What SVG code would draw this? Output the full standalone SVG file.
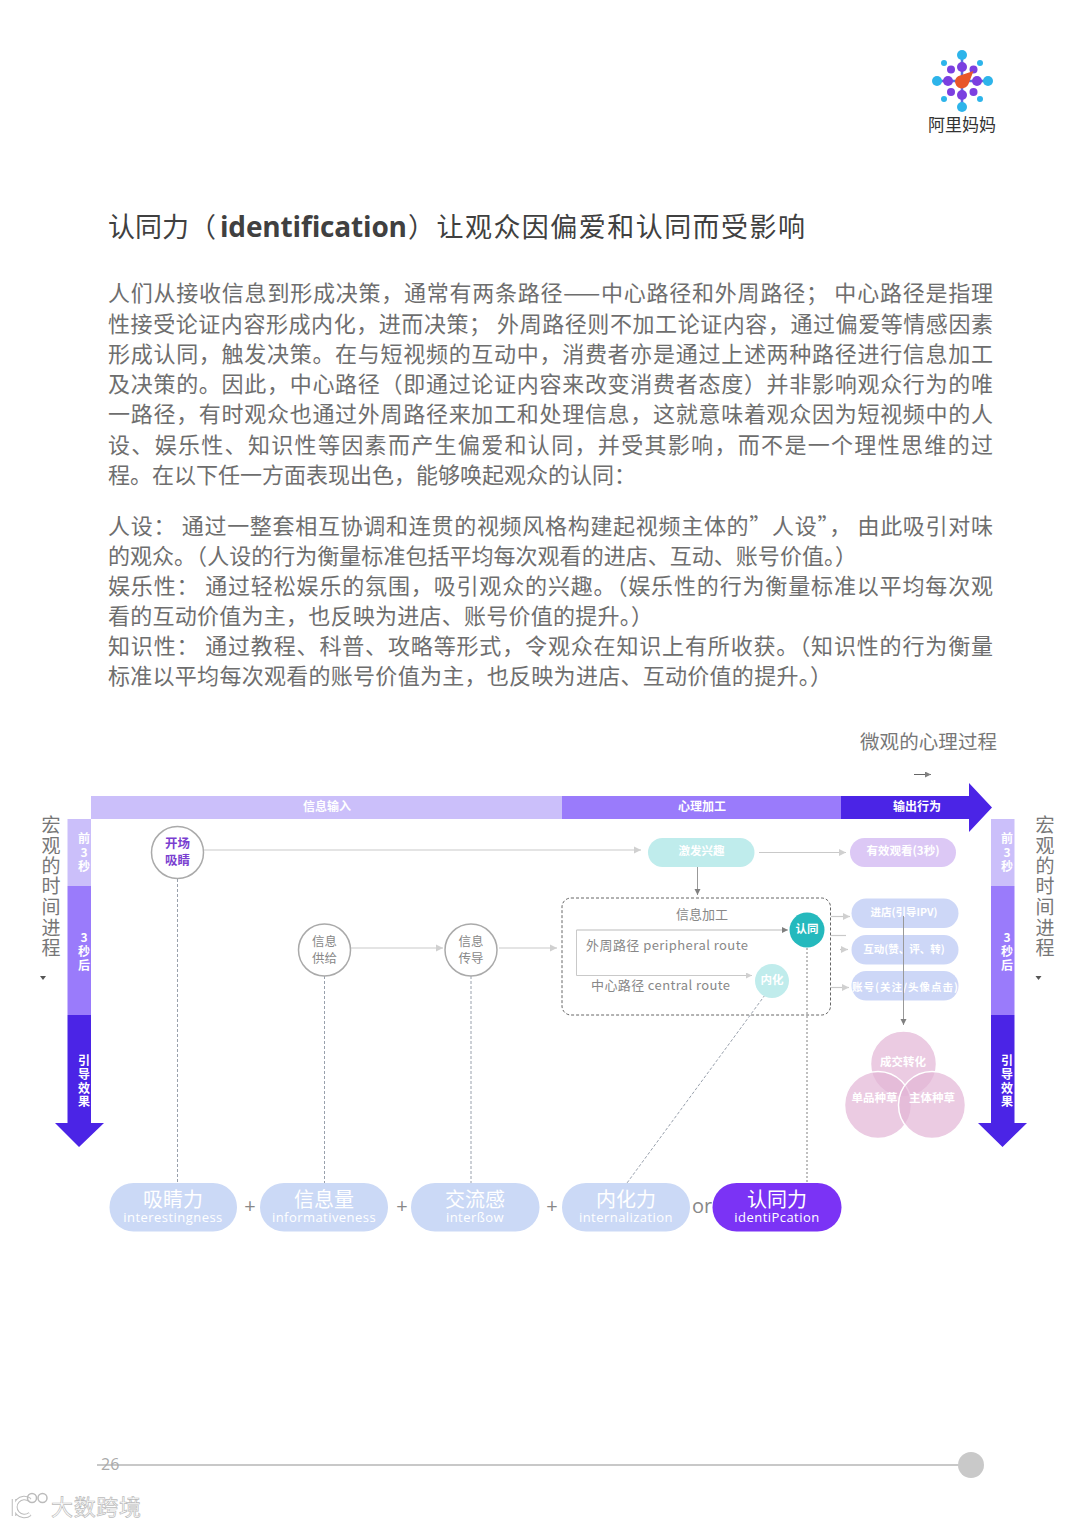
<svg xmlns="http://www.w3.org/2000/svg" width="1080" height="1526" viewBox="0 0 1080 1526">
<style>
text{font-family:"Noto Sans CJK SC","Noto Sans",sans-serif}
.b{font-size:22px;fill:#6e6e6e;font-weight:400}
.m{font-size:19px;fill:#777;text-anchor:middle}
.w{fill:#fff;text-anchor:middle;dominant-baseline:central}
.bar{font-size:12px;font-weight:700}
.col{font-size:12px;font-weight:700}
.ct{font-size:12.5px;text-anchor:middle;dominant-baseline:central;fill:#888}
.pl{font-size:11.5px;font-weight:700}
.cn{font-size:20px}
.en{font-family:"Open Sans","Noto Sans",sans-serif;font-size:13px;letter-spacing:.45px}
.sol{fill:none;stroke:#c9c9c9;stroke-width:1.2}
.dash{fill:none;stroke:#98a0ac;stroke-width:1;stroke-dasharray:3 2}
.pill{fill:#cbd9f6}
.plus{font-size:20px;fill:#888;text-anchor:middle;dominant-baseline:central;font-family:"Open Sans",sans-serif}
.circ{fill:#fff;stroke:#aaa;stroke-width:1.5}
.dot{fill:#7b3fe0}.cy{fill:#2db4ea}
.v{fill:#e3b5d6;fill-opacity:.7;stroke:#fff;stroke-width:1.5}
</style>
<defs>
<marker id="a" markerWidth="7" markerHeight="7" refX="6" refY="3" orient="auto"><path d="M0 0L6 3L0 6z" fill="#d0d0d0"/></marker>
<marker id="d" markerWidth="7" markerHeight="7" refX="6" refY="3" orient="auto"><path d="M0 0L6 3L0 6z" fill="#808080"/></marker>
</defs>
<rect width="1080" height="1526" fill="#fff"/>

<g id="logo">
<g stroke="#5a6fe0" stroke-width="2.500"><path d="M962 55V107M937 81H988"/></g>
<circle class="cy" cx="962" cy="55" r="5"/><circle class="cy" cx="962" cy="107" r="5"/><circle class="cy" cx="937" cy="81" r="5"/><circle class="cy" cx="988" cy="81" r="5"/>
<circle class="cy" cx="944" cy="63" r="3"/><circle class="cy" cx="980" cy="63" r="3"/><circle class="cy" cx="944" cy="99" r="3"/><circle class="cy" cx="980" cy="99" r="3"/>
<circle class="dot" cx="962" cy="67" r="5"/><circle class="dot" cx="962" cy="95" r="5"/><circle class="dot" cx="948" cy="81" r="5"/><circle class="dot" cx="977" cy="81" r="5"/>
<circle class="dot" cx="951" cy="69.500" r="4"/><circle class="dot" cx="973.500" cy="69.500" r="4"/><circle class="dot" cx="951" cy="92" r="4"/><circle class="dot" cx="973.500" cy="92" r="4"/>
<path d="M955 81a7 7 0 0 0 13.500 3L973.500 71L960 75.500a7 7 0 0 0-5 5.500z" fill="#e8562a"/>
<text x="928" y="131" font-size="17" textLength="68" fill="#333">阿里妈妈</text>
</g>

<g id="title">
<text x="108" y="237" font-size="27" fill="#404040">认同力（</text>
<text x="220" y="237" font-size="28" font-weight="700" fill="#404040" textLength="187" style="font-family:'Open Sans','Noto Sans',sans-serif">identification</text>
<text x="408" y="237" font-size="27" fill="#404040" textLength="397">）让观众因偏爱和认同而受影响</text>
</g>

<g id="body">
<text class="b" x="108" y="301" textLength="885">人们从接收信息到形成决策，通常有两条路径——中心路径和外周路径； 中心路径是指理</text>
<text class="b" x="108" y="332" textLength="885">性接受论证内容形成内化，进而决策； 外周路径则不加工论证内容，通过偏爱等情感因素</text>
<text class="b" x="108" y="362" textLength="885">形成认同，触发决策。在与短视频的互动中，消费者亦是通过上述两种路径进行信息加工</text>
<text class="b" x="108" y="392" textLength="885">及决策的。因此，中心路径（即通过论证内容来改变消费者态度）并非影响观众行为的唯</text>
<text class="b" x="108" y="422" textLength="885">一路径，有时观众也通过外周路径来加工和处理信息，这就意味着观众因为短视频中的人</text>
<text class="b" x="108" y="453" textLength="885">设、娱乐性、知识性等因素而产生偏爱和认同，并受其影响，而不是一个理性思维的过</text>
<text class="b" x="108" y="483" textLength="528">程。在以下任一方面表现出色，能够唤起观众的认同：</text>
<text class="b" x="108" y="534" textLength="885">人设： 通过一整套相互协调和连贯的视频风格构建起视频主体的”人设”， 由此吸引对味</text>
<text class="b" x="108" y="564" textLength="749">的观众。（人设的行为衡量标准包括平均每次观看的进店、互动、账号价值。）</text>
<text class="b" x="108" y="594" textLength="885">娱乐性： 通过轻松娱乐的氛围，吸引观众的兴趣。（娱乐性的行为衡量标准以平均每次观</text>
<text class="b" x="108" y="624" textLength="545">看的互动价值为主，也反映为进店、账号价值的提升。）</text>
<text class="b" x="108" y="654" textLength="885">知识性： 通过教程、科普、攻略等形式，令观众在知识上有所收获。（知识性的行为衡量</text>
<text class="b" x="108" y="684" textLength="724">标准以平均每次观看的账号价值为主，也反映为进店、互动价值的提升。）</text>
</g>

<g id="labels">
<text x="860" y="749" font-size="19.500" fill="#777" textLength="137">微观的心理过程</text>
<path d="M914 774.500H931" stroke="#666" stroke-width="1" marker-end="url(#d)"/>
<text class="m"><tspan x="51" y="832">宏</tspan><tspan x="51" y="853">观</tspan><tspan x="51" y="873">的</tspan><tspan x="51" y="893">时</tspan><tspan x="51" y="914">间</tspan><tspan x="51" y="934.500">进</tspan><tspan x="51" y="955">程</tspan></text>
<path d="M40 976H46L43 980z" fill="#555"/>
<text class="m"><tspan x="1045" y="832">宏</tspan><tspan x="1045" y="853">观</tspan><tspan x="1045" y="873">的</tspan><tspan x="1045" y="893">时</tspan><tspan x="1045" y="914">间</tspan><tspan x="1045" y="934.500">进</tspan><tspan x="1045" y="955">程</tspan></text>
<path d="M1035.500 976H1041.500L1038.500 980z" fill="#555"/>
</g>

<g id="top-arrow">
<rect x="91" y="796" width="471" height="23" fill="#cbbffa"/>
<rect x="562" y="796" width="279" height="23" fill="#9a7bfb"/>
<path d="M841 796H969V783L992 807.500L969 832V819H841z" fill="#4b24e6"/>
<text class="w bar" x="327" y="805">信息输入</text>
<text class="w bar" x="702" y="805">心理加工</text>
<text class="w bar" x="917" y="805">输出行为</text>
</g>

<g id="left-arrow">
<rect x="67.500" y="819" width="23.500" height="67" fill="#cbbffa"/>
<rect x="67.500" y="886" width="23.500" height="129" fill="#9a7bfb"/>
<path d="M67.500 1015H91V1123H104L79 1147L55 1123H67.500z" fill="#4b24e6"/>
<text class="w col"><tspan x="84" y="837">前</tspan><tspan x="84" y="851">3</tspan><tspan x="84" y="865">秒</tspan></text>
<text class="w col"><tspan x="84" y="936">3</tspan><tspan x="84" y="949.500">秒</tspan><tspan x="84" y="963.500">后</tspan></text>
<text class="w col"><tspan x="84" y="1059">引</tspan><tspan x="84" y="1073">导</tspan><tspan x="84" y="1086.500">效</tspan><tspan x="84" y="1100">果</tspan></text>
</g>

<g id="right-arrow">
<rect x="991" y="819" width="23.500" height="67" fill="#cbbffa"/>
<rect x="991" y="886" width="23.500" height="129" fill="#9a7bfb"/>
<path d="M991 1015H1014.500V1123H1027L1002.500 1147L978 1123H991z" fill="#4b24e6"/>
<text class="w col"><tspan x="1007" y="837">前</tspan><tspan x="1007" y="851">3</tspan><tspan x="1007" y="865">秒</tspan></text>
<text class="w col"><tspan x="1007" y="936">3</tspan><tspan x="1007" y="949.500">秒</tspan><tspan x="1007" y="963.500">后</tspan></text>
<text class="w col"><tspan x="1007" y="1059">引</tspan><tspan x="1007" y="1073">导</tspan><tspan x="1007" y="1086.500">效</tspan><tspan x="1007" y="1100">果</tspan></text>
</g>

<g id="connectors">
<path class="sol" d="M204 850H641" marker-end="url(#a)"/>
<path class="sol" d="M351 948H443" marker-end="url(#a)"/>
<path class="sol" d="M499 948H557" marker-end="url(#a)"/>
<path class="sol" d="M759 852.500H846" marker-end="url(#a)"/>
<path d="M697.500 867V895" stroke="#999" fill="none" marker-end="url(#d)"/>
<path class="sol" d="M831 916.500H850" marker-end="url(#a)"/>
<path class="sol" d="M831 935.500H846"/>
<path class="sol" d="M840 949.500H848" marker-end="url(#a)"/>
<path class="sol" d="M831 987.500H849" marker-end="url(#a)"/>
<path d="M576.500 930H788" stroke="#bbb" fill="none" marker-end="url(#d)"/>
<path d="M576.500 930V975.500H752" stroke="#c9c9c9" fill="none" marker-end="url(#a)"/>
<path class="dash" d="M177.500 879V1183"/>
<path class="dash" d="M324.500 976V1183"/>
<path class="dash" d="M471 976V1183"/>
<path class="dash" d="M765 995L627 1183"/>
<path d="M807 948V1183" fill="none" stroke="#aaa" stroke-width="1.500" stroke-dasharray="2 2"/>
</g>

<g id="process-box"><rect x="562" y="898" width="268.500" height="117" rx="9" fill="none" stroke="#666" stroke-width="1" stroke-dasharray="3 2"/>
<text class="ct" x="702" y="913" style="font-size:13px">信息加工</text>
<text x="586" y="950" font-size="13" fill="#888" textLength="162">外周路径 peripheral route</text>
<text x="591" y="990" font-size="13" fill="#888" textLength="139">中心路径 central route</text></g>

<g id="n-open"><circle class="circ" cx="177.500" cy="852.500" r="26"/><text class="ct" style="fill:#7a3fd0;font-weight:700"><tspan x="177.500" y="841.500">开场</tspan><tspan x="177.500" y="858.500">吸睛</tspan></text></g>
<g id="n-supply"><circle class="circ" cx="324.500" cy="950" r="26"/><text class="ct"><tspan x="324.500" y="939.500">信息</tspan><tspan x="324.500" y="956.500">供给</tspan></text></g>
<g id="n-convey"><circle class="circ" cx="471" cy="950" r="26"/><text class="ct"><tspan x="471" y="939.500">信息</tspan><tspan x="471" y="956.500">传导</tspan></text></g>
<g id="n-interest"><rect x="648" y="838" width="106.500" height="29" rx="14.500" fill="#bfecec"/><text class="w pl" x="701.500" y="849.500">激发兴趣</text></g>
<g id="n-view"><rect x="850" y="838" width="106" height="29" rx="14.500" fill="#dcc8f5"/><text class="w pl" x="903" y="850">有效观看(3秒)</text></g>
<g id="n-ident"><circle cx="807" cy="930" r="17.500" fill="#25b9bd"/><text class="w pl" x="807" y="928" font-size="12">认同</text></g>
<g id="n-intern"><circle cx="772" cy="981" r="17" fill="#c0ecec"/><text class="w pl" x="772" y="978.500">内化</text></g>
<g id="n-store"><rect x="851.500" y="898.500" width="107" height="29.500" rx="14.700" fill="#cdd7f7"/><text class="w" x="904" y="911.500" font-size="10.500" font-weight="700">进店(引导IPV)</text></g>
<g id="n-engage"><rect x="851.500" y="935" width="107" height="29.500" rx="14.700" fill="#cdd7f7"/><text class="w" x="904" y="948.500" font-size="10.500" font-weight="700">互动(赞、评、转)</text></g>
<g id="n-account"><rect x="851.500" y="971" width="107" height="29.500" rx="14.700" fill="#cdd7f7"/><text class="w" x="905" y="986" font-size="10.500" font-weight="700" textLength="106">账号(关注/头像点击)</text></g>
<path d="M903.500 916V1025" stroke="#999" fill="none" marker-end="url(#d)"/>

<g id="venn">
<circle class="v" cx="903.500" cy="1064" r="33"/>
<circle class="v" cx="878" cy="1105" r="33.500"/>
<circle class="v" cx="932" cy="1105" r="33.500"/>
<text class="w pl" x="903" y="1060.500">成交转化</text>
<text class="w pl" x="874.500" y="1096.500">单品种草</text>
<text class="w pl" x="932" y="1096.500">主体种草</text>
</g>

<g id="p1"><rect class="pill" x="109.500" y="1183" width="127.500" height="48.500" rx="24"/><text class="w"><tspan class="cn" x="173" y="1198">吸睛力</tspan><tspan class="en" x="173" y="1217">interestingness</tspan></text></g>
<g id="p2"><rect class="pill" x="260" y="1183" width="128" height="48.500" rx="24"/><text class="w"><tspan class="cn" x="324" y="1198">信息量</tspan><tspan class="en" x="324" y="1217">informativeness</tspan></text></g>
<g id="p3"><rect class="pill" x="411" y="1183" width="128.500" height="48.500" rx="24"/><text class="w"><tspan class="cn" x="475" y="1198">交流感</tspan><tspan class="en" x="475" y="1217">interßow</tspan></text></g>
<g id="p4"><rect class="pill" x="562" y="1183" width="128" height="48.500" rx="24"/><text class="w"><tspan class="cn" x="626" y="1198">内化力</tspan><tspan class="en" x="626" y="1217">internalization</tspan></text></g>
<g id="p5"><rect x="712.500" y="1183" width="129" height="48.500" rx="24" fill="#7b33f5"/><text class="w"><tspan class="cn" x="777" y="1198">认同力</tspan><tspan class="en" x="777" y="1217">identiPcation</tspan></text></g>
<text class="plus" x="250" y="1205">+</text><text class="plus" x="402" y="1205">+</text><text class="plus" x="552" y="1205">+</text><text class="plus" x="702" y="1205">or</text>

<g id="footer">
<path d="M97 1465H960" stroke="#c8c8c8" stroke-width="2"/>
<circle cx="971" cy="1465" r="13" fill="#c9c9c9"/>
<text x="101" y="1470" font-size="16" fill="#aaa" style="font-family:'Open Sans',sans-serif">26</text>
<g fill="none">
<path d="M14 1499V1516M30 1500A9 9 0 1 0 30 1514" stroke="#bbb" stroke-width="4.500"/>
<path d="M14 1499V1516M30 1500A9 9 0 1 0 30 1514" stroke="#fff" stroke-width="2.500"/>
<circle cx="32" cy="1498" r="4.500" stroke="#bbb" stroke-width="1.500"/><circle cx="42.500" cy="1498" r="4.500" stroke="#bbb" stroke-width="1.500"/>
</g>
<text x="51" y="1515" font-size="22" fill="#fff" stroke="#bbb" stroke-width=".7" textLength="90">大数跨境</text>
</g>
</svg>
